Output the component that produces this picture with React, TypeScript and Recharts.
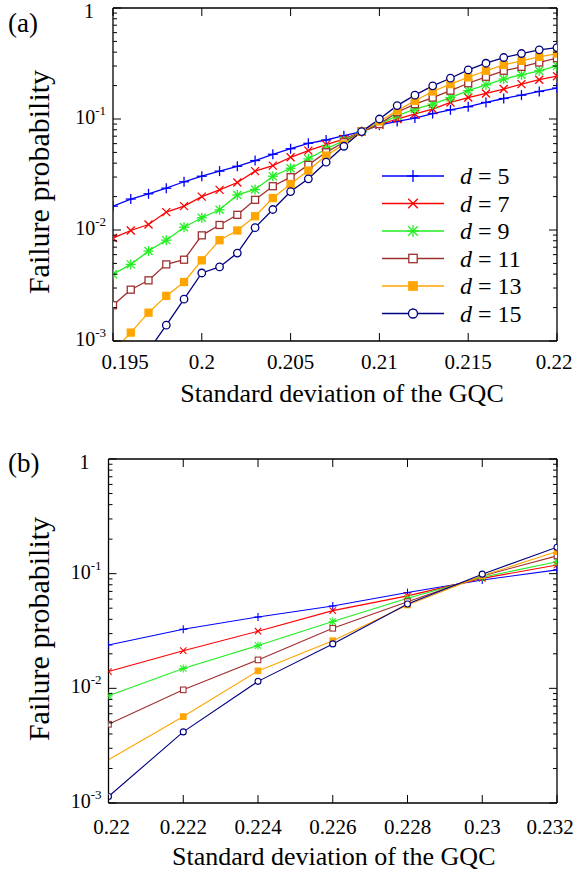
import React from 'react';
import { LineChart, Line, XAxis, YAxis, Legend, Label } from 'recharts';

const FONT = '"Liberation Serif", "Times New Roman", serif';

// ---- panel (a) data ----
const sigmaA = [
  0.195, 0.196, 0.197, 0.198, 0.199, 0.2, 0.201, 0.202, 0.203, 0.204, 0.205, 0.206, 0.207,
  0.208, 0.209, 0.21, 0.211, 0.212, 0.213, 0.214, 0.215, 0.216, 0.217, 0.218, 0.219, 0.22,
];
const d5A = [
  0.0164, 0.019, 0.0212, 0.0238, 0.0272, 0.0305, 0.0339, 0.0375, 0.0422, 0.0481, 0.054, 0.0604, 0.0647,
  0.0707, 0.0769, 0.088, 0.095, 0.102, 0.112, 0.121, 0.129, 0.141, 0.153, 0.164, 0.177, 0.19,
];
const d7A = [
  0.00846, 0.0099, 0.0112, 0.0145, 0.0164, 0.02, 0.023, 0.0268, 0.0339, 0.038, 0.0452, 0.0519, 0.0588,
  0.066, 0.0769, 0.0889, 0.1, 0.111, 0.123, 0.141, 0.156, 0.17, 0.186, 0.206, 0.226, 0.243,
];
const d9A = [
  0.00399, 0.0049, 0.00646, 0.0081, 0.0106, 0.0129, 0.0152, 0.0207, 0.0232, 0.0305, 0.036, 0.0437, 0.0537,
  0.0638, 0.077, 0.09, 0.107, 0.123, 0.136, 0.156, 0.18, 0.203, 0.229, 0.25, 0.272, 0.301,
];
const d11A = [
  0.0021, 0.0029, 0.00352, 0.0049, 0.0054, 0.00895, 0.0111, 0.0137, 0.0187, 0.0248, 0.0299, 0.0386, 0.0501,
  0.0617, 0.077, 0.09, 0.115, 0.136, 0.156, 0.18, 0.21, 0.24, 0.272, 0.295, 0.323, 0.353,
];
const d13A = [
  0.0008, 0.00119, 0.0018, 0.00255, 0.0034, 0.00533, 0.0081, 0.0099, 0.0133, 0.0194, 0.026, 0.0343, 0.0468,
  0.059, 0.077, 0.095, 0.119, 0.146, 0.177, 0.206, 0.237, 0.272, 0.307, 0.334, 0.363, 0.389,
];
const d15A = [
  null, null, 0.00082, 0.00139, 0.00238, 0.0041, 0.00465, 0.0062, 0.0105, 0.0153, 0.0222, 0.0289, 0.0408,
  0.0568, 0.077, 0.1, 0.132, 0.164, 0.199, 0.233, 0.277, 0.318, 0.358, 0.389, 0.42, 0.44,
];
const xTicksA = [0.195, 0.2, 0.205, 0.21, 0.215, 0.22];
const xTickLabelsA = ['0.195', '0.2', '0.205', '0.21', '0.215', '0.22'];

// ---- panel (b) data ----
const sigmaB = [0.22, 0.222, 0.224, 0.226, 0.228, 0.23, 0.232];
const d5B = [0.0239, 0.0327, 0.0419, 0.0523, 0.0684, 0.0881, 0.108];
const d7B = [0.014, 0.0213, 0.0315, 0.0476, 0.064, 0.091, 0.119];
const d9B = [0.0086, 0.0149, 0.0236, 0.0382, 0.061, 0.093, 0.127];
const d11B = [0.00486, 0.0097, 0.0177, 0.0334, 0.057, 0.0955, 0.143];
const d13B = [0.00238, 0.00567, 0.0142, 0.026, 0.0533, 0.096, 0.156];
const d15B = [0.00114, 0.00417, 0.0115, 0.0244, 0.0544, 0.099, 0.17];
const xTicksB = [0.22, 0.222, 0.224, 0.226, 0.228, 0.23, 0.232];
const xTickLabelsB = ['0.22', '0.222', '0.224', '0.226', '0.228', '0.23', '0.232'];

// ---- shared ----
const yTicks = [
  0.001, 0.002, 0.003, 0.004, 0.005, 0.006, 0.007, 0.008, 0.009,
  0.01, 0.02, 0.03, 0.04, 0.05, 0.06, 0.07, 0.08, 0.09,
  0.1, 0.2, 0.3, 0.4, 0.5, 0.6, 0.7, 0.8, 0.9, 1,
];
const seriesKeys = ['d5', 'd7', 'd9', 'd11', 'd13', 'd15'];
const seriesNames = ['5', '7', '9', '11', '13', '15'];
const seriesColors = ['#0000ff', '#ff0000', '#22ee22', '#a0302f', '#ffa500', '#000080'];
const seriesShapes = ['plus', 'cross', 'star', 'squareOpen', 'squareFilled', 'circleOpen'];

const dataA = sigmaA.map((x, i) => ({
  x, d5: d5A[i], d7: d7A[i], d9: d9A[i], d11: d11A[i], d13: d13A[i], d15: d15A[i],
}));
const dataB = sigmaB.map((x, i) => ({
  x, d5: d5B[i], d7: d7B[i], d9: d9B[i], d11: d11B[i], d13: d13B[i], d15: d15B[i],
}));

function Marker({ shape, cx, cy, s, color, sw }: any) {
  const d = s * 0.8;
  const plus = (
    <>
      <line x1={cx - s} y1={cy} x2={cx + s} y2={cy} />
      <line x1={cx} y1={cy - s} x2={cx} y2={cy + s} />
    </>
  );
  const cross = (
    <>
      <line x1={cx - d} y1={cy - d} x2={cx + d} y2={cy + d} />
      <line x1={cx - d} y1={cy + d} x2={cx + d} y2={cy - d} />
    </>
  );
  switch (shape) {
    case 'plus':
      return <g stroke={color} strokeWidth={sw}>{plus}</g>;
    case 'cross':
      return <g stroke={color} strokeWidth={sw}>{cross}</g>;
    case 'star':
      return <g stroke={color} strokeWidth={sw}>{plus}{cross}</g>;
    case 'squareOpen':
      return <rect x={cx - s * 0.7} y={cy - s * 0.7} width={s * 1.4} height={s * 1.4} fill="#fff" stroke={color} strokeWidth={sw} />;
    case 'squareFilled':
      return <rect x={cx - s * 0.7} y={cy - s * 0.7} width={s * 1.4} height={s * 1.4} fill={color} stroke={color} strokeWidth={sw} />;
    default:
      return <circle cx={cx} cy={cy} r={s * 0.75} fill="#fff" stroke={color} strokeWidth={sw} />;
  }
}

const isMajor = (v: number) => Math.abs(Math.log10(v) - Math.round(Math.log10(v))) < 1e-6;

function makeYTick(side: 'left' | 'right', labels: boolean) {
  return (p: any) => {
    const { x, y, payload } = p;
    const v = payload.value;
    const major = isMajor(v);
    const len = major ? 8 : 4;
    const dir = side === 'left' ? 1 : -1;
    const exp = Math.round(Math.log10(v));
    return (
      <g>
        <line x1={x} y1={y} x2={x + dir * len} y2={y} stroke="#000" strokeWidth={1} />
        {labels && major && exp === 0 && (
          <text x={x - 19} y={y + 10} textAnchor="end" fontFamily={FONT} fontSize={20} fill="#000">1</text>
        )}
        {labels && major && exp !== 0 && (
          <text x={x - 7} y={y + 5} textAnchor="end" fontFamily={FONT} fontSize={20} fill="#000">
            10<tspan dy={-9} fontSize={13}>{String(exp)}</tspan>
          </text>
        )}
      </g>
    );
  };
}

function makeXTick(side: 'top' | 'bottom', tickLabels: string[] | null, dy: number, firstShift: number, lastShift: number) {
  return (p: any) => {
    const { x, y, index } = p;
    const dir = side === 'bottom' ? -1 : 1;
    let shift = 0;
    if (tickLabels && index === 0) shift = firstShift;
    if (tickLabels && index === tickLabels.length - 1) shift = lastShift;
    return (
      <g>
        <line x1={x} y1={y} x2={x} y2={y + dir * 8} stroke="#000" strokeWidth={1} />
        {tickLabels && (
          <text x={x + shift} y={y + dy} textAnchor="middle" fontFamily={FONT} fontSize={21} fill="#000">
            {tickLabels[index]}
          </text>
        )}
      </g>
    );
  };
}

const renderLegend = () => (
  <svg width={200} height={170}>
    {seriesKeys.map((k, i) => {
      const y = 14 + i * 27.5;
      return (
        <g key={k}>
          <line x1={2} x2={64} y1={y} y2={y} stroke={seriesColors[i]} strokeWidth={1.3} />
          <Marker shape={seriesShapes[i]} cx={33} cy={y} s={6} color={seriesColors[i]} sw={1.3} />
          <text x={80} y={y + 8} fontFamily={FONT} fontSize={24} fill="#000">
            <tspan fontStyle="italic">d</tspan> = {seriesNames[i]}
          </text>
        </g>
      );
    })}
  </svg>
);

function yTitle(letter: string, centerY: number) {
  return () => (
    <g>
      <text x={8} y={32} fontFamily={FONT} fontSize={27} fill="#000">{letter}</text>
      <text
        x={49}
        y={centerY}
        transform={`rotate(-90 49 ${centerY})`}
        textAnchor="middle"
        fontFamily={FONT}
        fontSize={30}
        fill="#000"
      >
        Failure probability
      </text>
    </g>
  );
}

function xTitle(dx: number, dy: number) {
  return (props: any) => {
    const { x, y, width } = props.viewBox;
    return (
      <text x={x + width / 2 + dx} y={y + dy} textAnchor="middle" fontFamily={FONT} fontSize={26} fill="#000">
        Standard deviation of the GQC
      </text>
    );
  };
}

const axisLine = { stroke: '#000', strokeWidth: 1.3 };

function Panel({ data, xDomain, xTicks, xTickLabels, height, top, yWidth, letter, titleY, tickDy, titleDy, titleDx, firstShift, lastShift, markerSize, lineWidth, hideFirst, legend }: any) {
  return (
    <div style={{ position: 'absolute', left: 0, top }}>
      <LineChart width={577} height={height} data={data} margin={{ top: top === 0 ? 7 : 18, right: 0, bottom: 0, left: 0 }}>
        <XAxis
          dataKey="x"
          type="number"
          domain={xDomain}
          ticks={xTicks}
          interval={0}
          allowDataOverflow
          height={height - (top === 0 ? 341 : 363)}
          axisLine={axisLine}
          tickLine={false}
          tickSize={0}
          tickMargin={0}
          tick={makeXTick('bottom', xTickLabels, tickDy, firstShift, lastShift)}
        >
          <Label content={xTitle(titleDx, titleDy)} />
        </XAxis>
        <XAxis
          xAxisId="top"
          orientation="top"
          dataKey="x"
          type="number"
          domain={xDomain}
          ticks={xTicks}
          interval={0}
          allowDataOverflow
          height={1}
          axisLine={axisLine}
          tickLine={false}
          tickSize={0}
          tickMargin={0}
          tick={makeXTick('top', null, 0, 0, 0)}
        />
        <YAxis
          type="number"
          scale="log"
          domain={[0.001, 1]}
          ticks={yTicks}
          interval={0}
          allowDataOverflow
          width={yWidth}
          axisLine={axisLine}
          tickLine={false}
          tickSize={0}
          tickMargin={0}
          tick={makeYTick('left', true)}
        >
          <Label content={yTitle(letter, titleY)} />
        </YAxis>
        <YAxis
          yAxisId="right"
          orientation="right"
          type="number"
          scale="log"
          domain={[0.001, 1]}
          ticks={yTicks}
          interval={0}
          allowDataOverflow
          width={20}
          axisLine={axisLine}
          tickLine={false}
          tickSize={0}
          tickMargin={0}
          tick={makeYTick('right', false)}
        />
        {seriesKeys.map((k, i) => (
          <Line
            key={k}
            dataKey={k}
            name={seriesNames[i]}
            stroke={seriesColors[i]}
            strokeWidth={lineWidth}
            isAnimationActive={false}
            connectNulls={false}
            dot={(p: any) =>
              p.cy == null || p.cx == null || (hideFirst[i] && p.index === 0) ? (
                <g key={`${k}-${p.index}`} />
              ) : (
                <g key={`${k}-${p.index}`}>
                  <Marker shape={seriesShapes[i]} cx={p.cx} cy={p.cy} s={markerSize} color={seriesColors[i]} sw={lineWidth} />
                </g>
              )
            }
            activeDot={false}
          />
        ))}
        {legend && (
          <Legend
            layout="vertical"
            align="center"
            verticalAlign="middle"
            content={renderLegend}
            wrapperStyle={{ position: 'absolute', top: 162, left: 380, width: 200, height: 170 }}
          />
        )}
      </LineChart>
    </div>
  );
}

export default function App() {
  return (
    <div style={{ position: 'absolute', left: 0, top: 0, width: 577, height: 873, background: '#fff' }}>
      <Panel
        data={dataA}
        xDomain={[0.195, 0.22]}
        xTicks={xTicksA}
        xTickLabels={xTickLabelsA}
        height={420}
        top={0}
        yWidth={113}
        letter="(a)"
        titleY={182}
        tickDy={28}
        titleDy={61}
        titleDx={7}
        firstShift={12}
        lastShift={-3}
        markerSize={5}
        lineWidth={1.3}
        hideFirst={[false, false, false, false, false, false]}
        legend
      />
      <Panel
        data={dataB}
        xDomain={[0.22, 0.232]}
        xTicks={xTicksB}
        xTickLabels={xTickLabelsB}
        height={433}
        top={440}
        yWidth={108.5}
        letter="(b)"
        titleY={189}
        tickDy={31}
        titleDy={62}
        titleDx={1}
        firstShift={3}
        lastShift={-7}
        markerSize={4}
        lineWidth={1.1}
        hideFirst={[false, false, false, false, true, false]}
        legend={false}
      />
    </div>
  );
}
